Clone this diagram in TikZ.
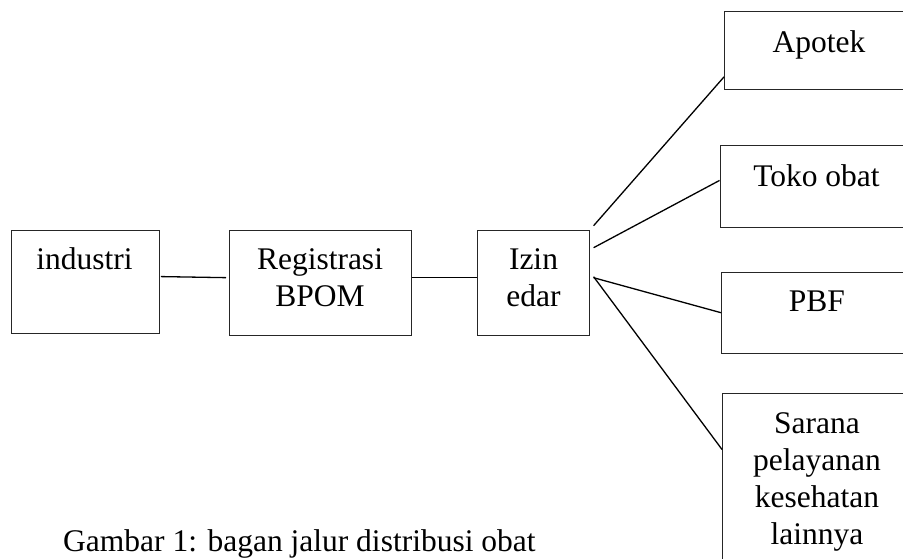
\documentclass[tikz,border=0pt]{standalone}
\usepackage{fontspec}
\setmainfont{Liberation Serif}
\begin{document}
\begin{tikzpicture}[x=1pt,y=-1pt,
  box/.style={draw=black!85, line width=0.9pt, inner sep=0pt, anchor=north west},
  lbl/.style={anchor=base, inner sep=0pt, font=\fontsize{31.5}{37}\selectfont},
  conn/.style={draw=black, line width=1.3pt}]
\clip (0,0) rectangle (903,558);
% boxes
\node[box, minimum width=148pt, minimum height=103.2pt] (ind) at (10.5,229.5) {};
\node[box, minimum width=181.7pt, minimum height=105.5pt] (reg) at (229,229.5) {};
\node[box, minimum width=111.7pt, minimum height=105.5pt] (izin) at (477,229.5) {};
\node[box, minimum width=190pt, minimum height=78.3pt] (apo) at (724,10.7) {};
\node[box, minimum width=192pt, minimum height=82pt] (toko) at (719.5,145) {};
\node[box, minimum width=192pt, minimum height=81.5pt] (pbf) at (721,271.5) {};
\node[box, minimum width=191pt, minimum height=173pt] (sar) at (722,393) {};
% texts
\node[lbl] (indt) at (84.5,269.5) {industri};
\node[lbl] (regt) at (320,269.5) {\begin{tabular}[t]{@{}c@{}}Registrasi\\BPOM\end{tabular}};
\node[lbl] (izint) at (533.5,269) {\begin{tabular}[t]{@{}c@{}}Izin\\edar\end{tabular}};
\node[lbl] (apot) at (819,52) {Apotek};
\node[lbl] (tokot) at (816.5,186) {Toko obat};
\node[lbl] (pbft) at (816.8,311) {PBF};
\node[lbl] (sart) at (817,433) {\begin{tabular}[t]{@{}c@{}}Sarana\\pelayanan\\kesehatan\\lainnya\end{tabular}};
\node[lbl, anchor=base west] (cap) at (63,551) {Gambar 1: bagan jalur distribusi obat};
% connectors
\draw[conn, shorten <=1.5pt, shorten >=3pt] ([yshift=5pt]ind.east) -- ([yshift=5pt]reg.west);
\draw[conn] ([yshift=5pt]reg.east) -- ([yshift=5pt]izin.west);
\draw[conn] ([xshift=4pt,yshift=57pt]izin.east) -- ([yshift=-26.6pt]apo.west);
\draw[conn] ([xshift=4pt,yshift=35pt]izin.east) -- ([yshift=6pt]toko.west);
\draw[conn] ([xshift=4pt,yshift=5pt]izin.east) -- (pbf.west);
\draw[conn] ([xshift=4pt,yshift=6pt]izin.east) -- ([yshift=30.5pt]sar.west);
\end{tikzpicture}
\end{document}
